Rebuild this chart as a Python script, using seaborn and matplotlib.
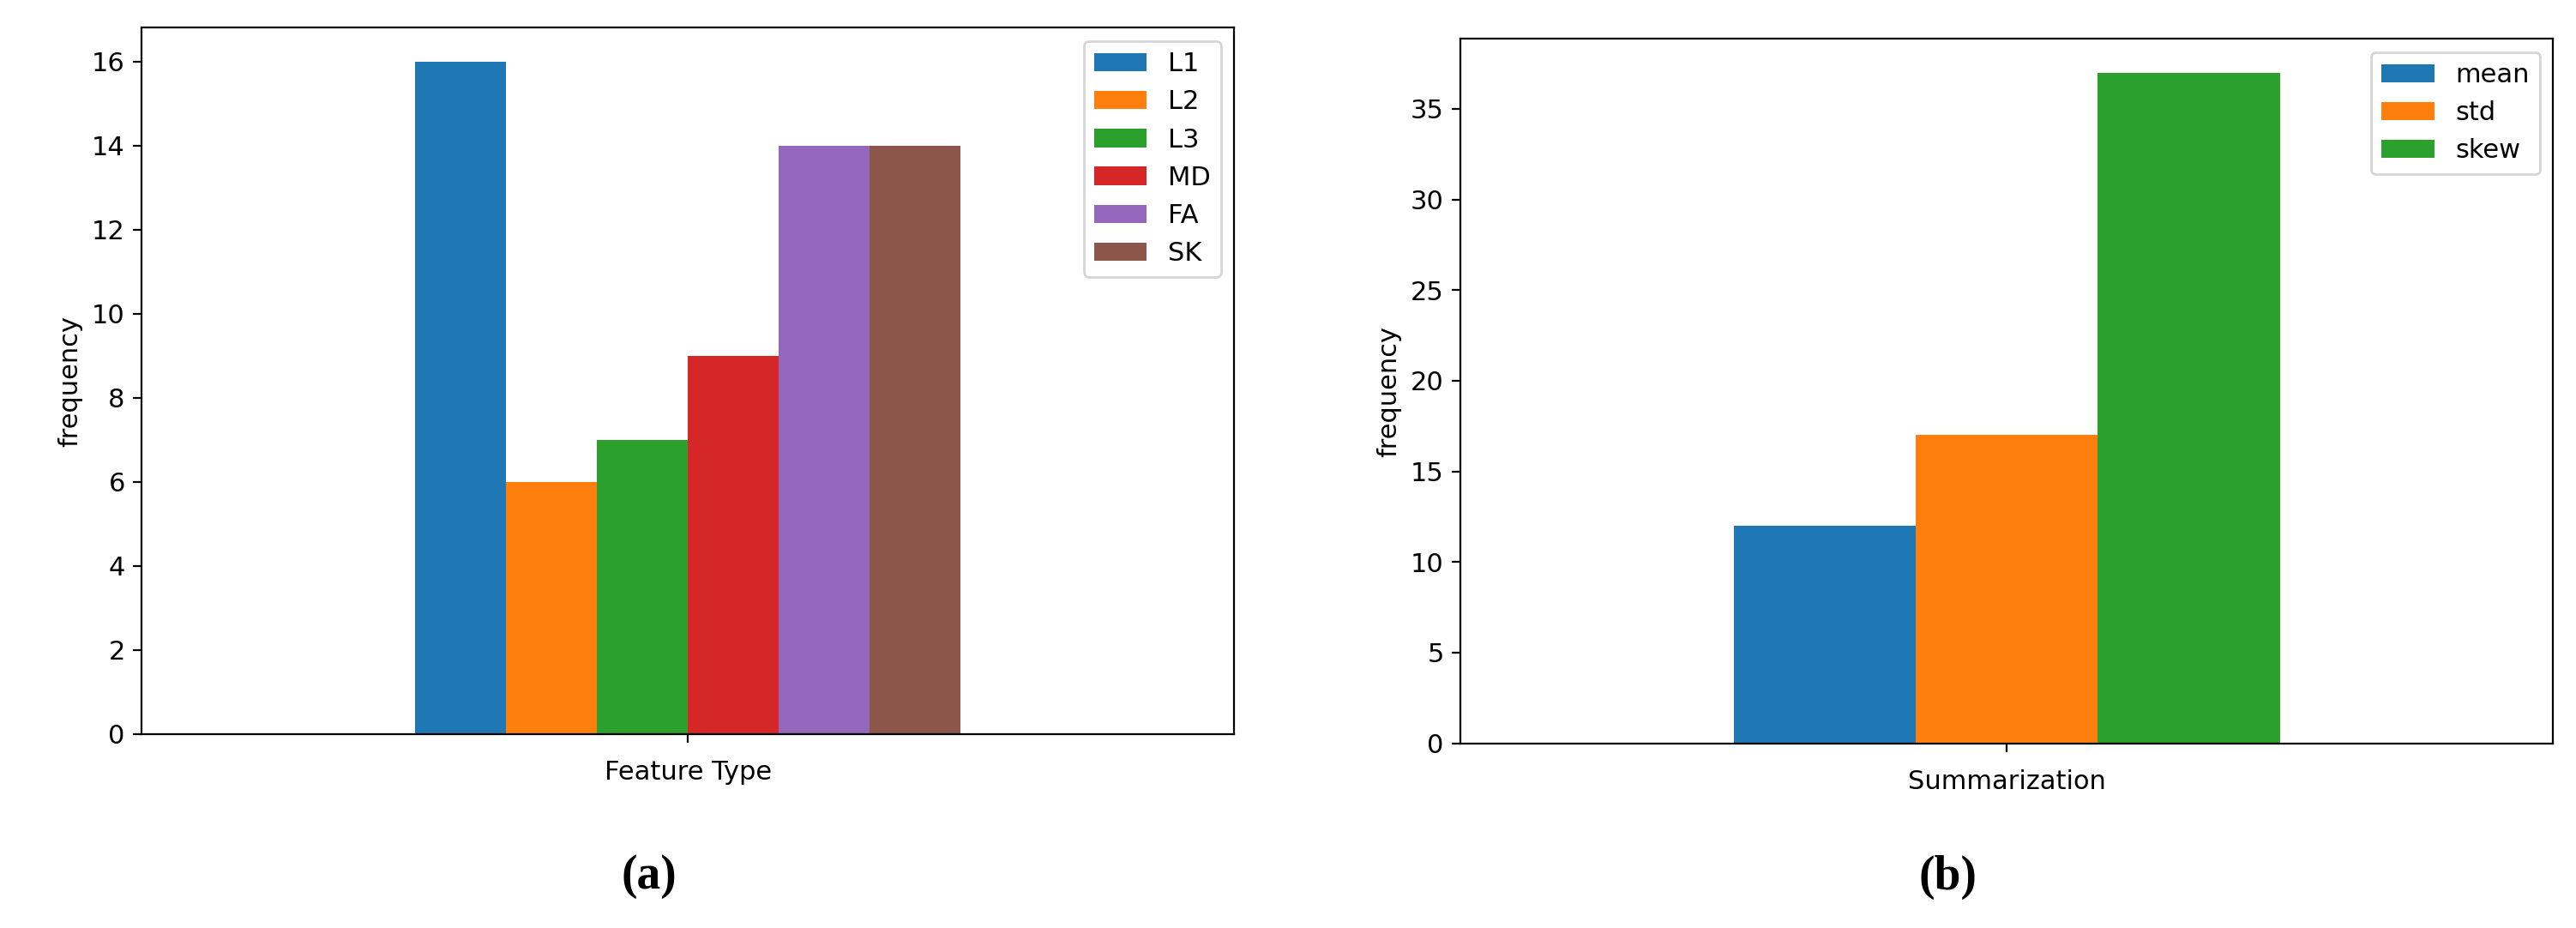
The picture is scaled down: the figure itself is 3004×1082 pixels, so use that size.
import matplotlib
matplotlib.use("Agg")
import matplotlib.pyplot as plt
import seaborn as sns
import pandas as pd

feat_names = ["L1", "L2", "L3", "MD", "FA", "SK"]
feat_vals = [16, 6, 7, 9, 14, 14]
sum_names = ["mean", "std", "skew"]
sum_vals = [12, 17, 37]

pal = sns.color_palette("tab10")
fig = plt.figure(figsize=(15.02, 5.41), dpi=200)
ax1 = fig.add_axes([0.055, 0.209, 0.424, 0.761])
ax2 = fig.add_axes([0.567, 0.199, 0.424, 0.759])

FS = 11

def draw(ax, names, vals, xlabel, ymax):
    df = pd.DataFrame({"x": [""] * len(names), "h": names, "v": vals})
    sns.barplot(data=df, x="x", y="v", hue="h", hue_order=names, palette=pal[:len(names)],
                width=0.5, ax=ax, saturation=1, gap=0)
    ax.set_xlim(-0.5, 0.5)
    ax.set_ylim(0, ymax)
    ax.set_xlabel(xlabel, fontsize=FS)
    ax.set_ylabel("frequency", fontsize=FS)
    ax.set_xticks([0])
    ax.set_xticklabels([""])
    ax.tick_params(labelsize=FS)
    ax.legend(loc="upper right", fontsize=FS, title=None)

draw(ax1, feat_names, feat_vals, "Feature Type", 16.8)
draw(ax2, sum_names, sum_vals, "Summarization", 38.85)

fig.text(0.252, 0.055, "(a)", fontsize=20, family="Liberation Serif", fontweight="bold", ha="center", va="center")
fig.text(0.756, 0.055, "(b)", fontsize=20, family="Liberation Serif", fontweight="bold", ha="center", va="center")
fig.savefig("out.png", dpi=200)
